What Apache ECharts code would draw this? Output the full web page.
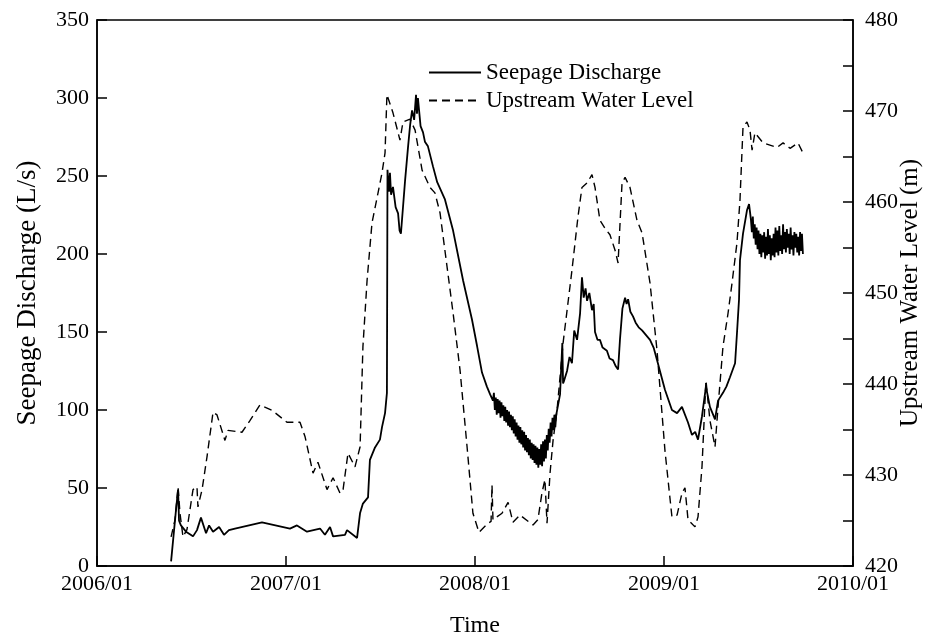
<!DOCTYPE html>
<html>
<head>
<meta charset="utf-8">
<script src="https://cdn.jsdelivr.net/npm/echarts@6/dist/echarts.min.js"></script>
<style>html,body{margin:0;padding:0;background:#fff;}#c{width:935px;height:637px;}</style>
</head>
<body>
<div id="c"></div>
<script>
// Time in decimal years
const xTicks = ['2006/01', '2007/01', '2008/01', '2009/01', '2010/01'];

// Seepage discharge (L/s), read in segments
const seepageT1 = [
  2006.392, 2006.418, 2006.429, 2006.434, 2006.444, 2006.471, 2006.508, 2006.529, 2006.550, 2006.577,
  2006.593, 2006.614, 2006.646, 2006.672, 2006.698, 2006.730, 2006.873, 2007.021, 2007.058, 2007.111,
  2007.180, 2007.206, 2007.233, 2007.249, 2007.312, 2007.323, 2007.376, 2007.392, 2007.407, 2007.434,
  2007.444, 2007.471, 2007.497, 2007.508, 2007.524, 2007.534, 2007.537, 2007.545, 2007.550, 2007.556,
  2007.566, 2007.580, 2007.593, 2007.601, 2007.608, 2007.619, 2007.630, 2007.646, 2007.657, 2007.667,
  2007.678, 2007.688, 2007.693, 2007.698, 2007.712, 2007.725, 2007.735, 2007.751, 2007.778, 2007.800,
  2007.841, 2007.884, 2007.937, 2007.984, 2008.011, 2008.037, 2008.063, 2008.080, 2008.095
];
const seepage1 = [
  3, 36, 49, 29, 26, 22, 19, 23, 31, 21,
  26, 22, 25, 20, 23, 24, 28, 24, 26, 22,
  24, 20, 25, 19, 20, 23, 18, 34, 40, 44,
  68, 76, 81, 89, 98, 111, 254, 240, 252, 238,
  243, 230, 226, 215, 213, 230, 247, 269, 283, 292,
  286, 302, 290, 300, 282, 278, 272, 269, 256, 246,
  235, 215, 183, 158, 141, 124, 115, 110, 106
];
const seepageT2 = [
  2008.100, 2008.105, 2008.110, 2008.115, 2008.120, 2008.125, 2008.130, 2008.135, 2008.140, 2008.145,
  2008.150, 2008.155, 2008.160, 2008.165, 2008.170, 2008.175, 2008.180, 2008.185, 2008.190, 2008.195,
  2008.200, 2008.205, 2008.210, 2008.215, 2008.220, 2008.225, 2008.230, 2008.235, 2008.240, 2008.245,
  2008.250, 2008.255, 2008.260, 2008.265, 2008.270, 2008.275, 2008.280, 2008.285, 2008.290, 2008.295,
  2008.300, 2008.305, 2008.310, 2008.315, 2008.320, 2008.325, 2008.330, 2008.335, 2008.340, 2008.345,
  2008.350, 2008.355, 2008.360, 2008.365, 2008.370, 2008.375, 2008.380, 2008.385, 2008.390, 2008.395,
  2008.400, 2008.405, 2008.410, 2008.415, 2008.420, 2008.425, 2008.430
];
const seepage2 = [
  111, 100, 108, 97, 107, 98, 106, 95, 105, 96,
  103, 93, 102, 92, 100, 90, 99, 89, 97, 87,
  96, 85, 94, 83, 92, 81, 90, 79, 89, 78,
  87, 76, 86, 74, 84, 73, 82, 71, 81, 69,
  79, 68, 78, 66, 77, 65, 76, 63, 75, 65,
  78, 64, 80, 67, 81, 69, 84, 74, 88, 79,
  92, 83, 95, 87, 97, 89, 97
];
const seepageT3 = [
  2008.450, 2008.462, 2008.466, 2008.472, 2008.487, 2008.500,
  2008.513, 2008.525, 2008.540, 2008.556, 2008.566, 2008.575, 2008.585, 2008.593, 2008.605, 2008.619,
  2008.628, 2008.635, 2008.648, 2008.661, 2008.675, 2008.698, 2008.712, 2008.730, 2008.745, 2008.757,
  2008.767, 2008.780, 2008.794, 2008.802, 2008.810, 2008.822, 2008.836, 2008.850, 2008.866, 2008.884,
  2008.905, 2008.926, 2008.945, 2008.963, 2009.005, 2009.042, 2009.069, 2009.095, 2009.127, 2009.148,
  2009.165, 2009.180, 2009.201, 2009.222, 2009.243, 2009.270, 2009.286, 2009.312, 2009.330, 2009.349,
  2009.376, 2009.386, 2009.397, 2009.402, 2009.418, 2009.439, 2009.450
];
const seepage3 = [
  110, 143, 117, 119, 125, 134,
  130, 151, 145, 162, 185, 172, 178, 170, 175, 164,
  168, 150, 145, 145, 140, 138, 133, 132, 128, 126,
  145, 165, 172, 168, 171, 163, 160, 156, 153, 151,
  148, 145, 140, 132, 113, 100, 98, 102, 92, 84,
  86, 81, 96, 115, 102, 94, 106, 111, 115, 121,
  130, 149, 171, 196, 213, 228, 232
];
const seepageT4 = [
  2009.460, 2009.465, 2009.470, 2009.475, 2009.480, 2009.485, 2009.490, 2009.495, 2009.500, 2009.505,
  2009.510, 2009.515, 2009.520, 2009.525, 2009.530, 2009.535, 2009.540, 2009.545, 2009.550, 2009.555,
  2009.560, 2009.565, 2009.570, 2009.575, 2009.580, 2009.585, 2009.590, 2009.595, 2009.600, 2009.605,
  2009.610, 2009.615, 2009.620, 2009.625, 2009.630, 2009.635, 2009.640, 2009.645, 2009.650, 2009.655,
  2009.660, 2009.665, 2009.670, 2009.675, 2009.680, 2009.685, 2009.690, 2009.695, 2009.700, 2009.705,
  2009.710, 2009.715, 2009.720, 2009.725, 2009.730, 2009.735
];
const seepage4 = [
  222, 214, 224, 210, 219, 206, 217, 203, 215, 200,
  213, 198, 212, 201, 214, 197, 211, 199, 216, 200,
  212, 196, 210, 199, 213, 198, 217, 201, 215, 199,
  218, 202, 212, 200, 219, 203, 214, 201, 216, 204,
  213, 200, 217, 203, 212, 199, 214, 204, 213, 201,
  211, 199, 214, 202, 213, 200
];

// Upstream water level (m)
const levelT = [
  2006.392, 2006.413, 2006.429, 2006.439, 2006.455, 2006.476, 2006.508, 2006.529, 2006.534, 2006.556,
  2006.582, 2006.614, 2006.635, 2006.677, 2006.693, 2006.767, 2006.810, 2006.862, 2006.926, 2007.005,
  2007.074, 2007.101, 2007.143, 2007.169, 2007.217, 2007.249, 2007.286, 2007.302, 2007.328, 2007.365,
  2007.392, 2007.407, 2007.429, 2007.455, 2007.487, 2007.508, 2007.524, 2007.534, 2007.566, 2007.603,
  2007.619, 2007.656, 2007.683, 2007.720, 2007.762, 2007.788, 2007.815, 2007.852, 2007.884, 2007.921,
  2007.958, 2007.989, 2008.021, 2008.069, 2008.085, 2008.090, 2008.095, 2008.143, 2008.175, 2008.201,
  2008.238, 2008.307, 2008.333, 2008.354, 2008.370, 2008.381, 2008.397, 2008.413, 2008.434, 2008.466,
  2008.513, 2008.545, 2008.566, 2008.593, 2008.619, 2008.635, 2008.661, 2008.688, 2008.714, 2008.741,
  2008.757, 2008.778, 2008.794, 2008.820, 2008.857, 2008.884, 2008.926, 2008.963, 2009.005, 2009.042,
  2009.069, 2009.095, 2009.111, 2009.127, 2009.164, 2009.180, 2009.201, 2009.222, 2009.243, 2009.270,
  2009.286, 2009.312, 2009.339, 2009.360, 2009.386, 2009.402, 2009.418, 2009.439, 2009.455, 2009.466,
  2009.481, 2009.524, 2009.598, 2009.630, 2009.667, 2009.709, 2009.735
];
const level = [
  423.2, 425.1, 428.7, 425.8, 423.2, 424.0, 428.4, 428.7, 426.5, 428.4,
  432.0, 436.9, 436.6, 433.8, 434.9, 434.7, 436.0, 437.7, 437.1, 435.8,
  435.8, 434.2, 430.2, 431.4, 428.4, 429.7, 428.0, 428.4, 432.4, 430.9,
  433.1, 444.1, 451.4, 457.7, 461.0, 463.2, 465.4, 471.8, 469.8, 466.8,
  468.8, 469.1, 467.9, 463.5, 461.6, 461.0, 458.8, 452.9, 447.8, 441.5,
  433.1, 425.8, 423.7, 424.7, 424.9, 428.9, 425.1, 425.8, 427.0, 424.8,
  425.6, 424.5, 425.1, 428.0, 429.5, 424.7, 430.2, 433.8, 437.1, 444.5,
  452.5, 458.4, 461.6, 462.1, 463.0, 461.6, 458.0, 457.1, 456.4, 454.7,
  453.3, 462.1, 462.7, 461.6, 458.0, 456.6, 451.1, 443.7, 432.7, 425.4,
  425.6, 428.0, 428.6, 425.1, 424.3, 425.4, 430.9, 440.4, 436.0, 433.1,
  437.5, 444.1, 447.8, 451.1, 455.5, 460.2, 468.2, 468.8, 467.9, 465.7,
  467.6, 466.5, 466.0, 466.5, 465.9, 466.5, 465.4
];

const seepageT = seepageT1.concat(seepageT2, seepageT3, seepageT4);
const seepage = seepage1.concat(seepage2, seepage3, seepage4);

const font = 'Liberation Serif';
const chart = echarts.init(document.getElementById('c'), null, {renderer: 'canvas'});
chart.setOption({
  animation: false,
  backgroundColor: '#fff',
  textStyle: {fontFamily: font, color: '#000'},
  grid: {left: 97, right: 82, top: 20, bottom: 71, outerBoundsMode: 'none', containLabel: false,
    show: true, borderColor: '#000', borderWidth: 1.5},
  legend: {
    orient: 'vertical', left: 423, top: 56, itemWidth: 52, itemHeight: 14, itemGap: 5,
    itemStyle: {opacity: 0},
    textStyle: {fontFamily: font, fontSize: 23, color: '#000', lineHeight: 23},
    data: ['Seepage Discharge', 'Upstream Water Level']
  },
  xAxis: {
    type: 'value', min: 2006, max: 2010, interval: 1,
    name: 'Time', nameLocation: 'middle', nameGap: 48, nameMoveOverlap: false,
    nameTextStyle: {fontFamily: font, fontSize: 24, color: '#000'},
    axisLine: {lineStyle: {color: '#000', width: 1.5}},
    axisTick: {inside: true, length: 10, lineStyle: {color: '#000', width: 1.5}},
    axisLabel: {fontFamily: font, fontSize: 22, color: '#000', margin: 7,
      formatter: v => xTicks[Math.round(v - 2006)]},
    splitLine: {show: false}
  },
  yAxis: [{
    type: 'value', min: 0, max: 350, interval: 50,
    name: 'Seepage Discharge (L/s)', nameLocation: 'middle', nameGap: 56, nameMoveOverlap: false,
    nameTextStyle: {fontFamily: font, fontSize: 27, color: '#000'},
    axisLine: {show: true, lineStyle: {color: '#000', width: 1.5}},
    axisTick: {show: true, inside: true, length: 10, lineStyle: {color: '#000', width: 1.5}},
    axisLabel: {fontFamily: font, fontSize: 22, color: '#000', margin: 8},
    splitLine: {show: false}
  }, {
    type: 'value', min: 420, max: 480, interval: 10, position: 'right',
    name: 'Upstream Water Level (m)', nameLocation: 'middle', nameGap: 45, nameRotate: 90,
    nameMoveOverlap: false,
    nameTextStyle: {fontFamily: font, fontSize: 25, color: '#000'},
    axisLine: {show: true, lineStyle: {color: '#000', width: 1.5}},
    axisTick: {show: true, inside: true, length: 10, lineStyle: {color: '#000', width: 1.5}},
    minorTick: {show: true, splitNumber: 2, length: 10, lineStyle: {color: '#000', width: 1.5}},
    axisLabel: {fontFamily: font, fontSize: 22, color: '#000', margin: 12},
    splitLine: {show: false}
  }],
  series: [{
    name: 'Seepage Discharge', type: 'line', yAxisIndex: 0, symbol: 'none',
    data: seepageT.map((t, i) => [t, seepage[i]]),
    lineStyle: {color: '#000', width: 1.8, type: 'solid'},
    itemStyle: {color: '#000'}
  }, {
    name: 'Upstream Water Level', type: 'line', yAxisIndex: 1, symbol: 'none',
    data: levelT.map((t, i) => [t, level[i]]),
    lineStyle: {color: '#000', width: 1.4, type: [8, 5]},
    itemStyle: {color: '#000'}
  }]
});
</script>
</body>
</html>
